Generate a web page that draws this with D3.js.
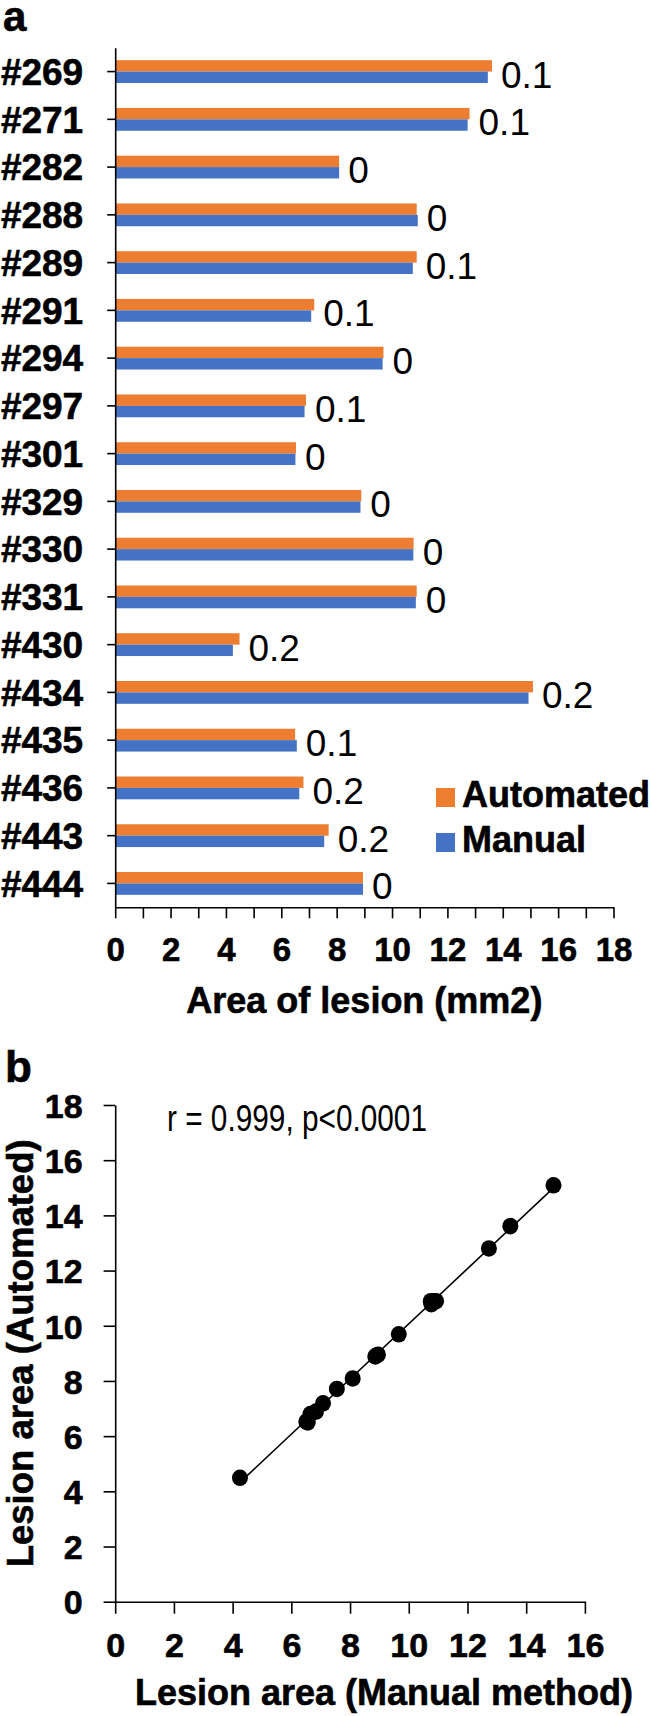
<!DOCTYPE html>
<html><head><meta charset="utf-8">
<script src="https://cdn.jsdelivr.net/npm/d3@7"></script>
<style>
body{margin:0;background:#fff;}
svg text{font-family:"Liberation Sans",Arial,sans-serif;}
.bold{font-weight:bold;stroke:#000;stroke-width:0.6px;paint-order:stroke;}
</style></head>
<body>
<svg id="chart" width="650" height="1716"></svg>
<script>
const categories = ["#269","#271","#282","#288","#289","#291","#294","#297","#301","#329","#330","#331","#430","#434","#435","#436","#443","#444"];
const automated = [13.61,12.80,8.09,10.89,10.89,7.19,9.69,6.89,6.53,8.89,10.78,10.89,4.49,15.09,6.50,6.80,7.71,8.95];
const manual    = [13.46,12.73,8.09,10.93,10.75,7.08,9.66,6.84,6.51,8.86,10.77,10.86,4.25,14.93,6.56,6.65,7.55,8.95];
const diffLabels = ["0.1","0.1","0","0","0.1","0.1","0","0.1","0","0","0","0","0.2","0.2","0.1","0.2","0.2","0"];
const series = ["Automated","Manual"];
const barTicks = d3.range(0,19);
const scatterXTicks = d3.range(0,17,2);
const scatterYTicks = d3.range(0,19,2);
const statText = "r = 0.999, p<0.0001";

const colors = {Automated:"#ED7D31", Manual:"#4472C4"};
const svg = d3.select("#chart");
const FF = '"Liberation Sans",Arial,sans-serif';

// ---------- Panel a ----------
const xA = d3.scaleLinear().domain([0,18]).range([115.2,613.5]);
const yA = d3.scaleBand().domain(categories).range([47.7,907.3]).padding(0);
const sub = d3.scaleBand().domain(series).range([-11.4,11.4]).padding(0);

const rows = categories.map((c,i)=>({cat:c, Automated:automated[i], Manual:manual[i], label:diffLabels[i]}));

const gA = svg.append("g");
const rowG = gA.selectAll("g.row").data(rows).join("g")
  .attr("transform", d=>`translate(0,${yA(d.cat)+yA.bandwidth()/2})`);
rowG.selectAll("rect").data(d=>series.map(s=>({s, v:d[s]}))).join("rect")
  .attr("x", xA(0))
  .attr("y", d=>sub(d.s))
  .attr("width", d=>xA(d.v)-xA(0))
  .attr("height", sub.bandwidth())
  .attr("fill", d=>colors[d.s]);
rowG.append("text")
  .attr("x", d=>xA(Math.max(d.Automated,d.Manual))+9)
  .attr("y", 16)
  .attr("font-size", 37)
  .attr("fill","#000")
  .text(d=>d.label);

// y axis
const yAxisA = gA.append("g").attr("transform",`translate(${xA(0)},0)`)
  .call(d3.axisLeft(yA).tickSize(8).tickSizeOuter(0).tickPadding(24));
yAxisA.selectAll("text").attr("font-size",37).attr("class","bold").attr("fill","#000").attr("dy","0.36em")
  .style("font-family",FF);
// x axis
const xAxisA = gA.append("g").attr("transform",`translate(0,${yA.range()[1]})`)
  .call(d3.axisBottom(xA).tickValues(barTicks).tickFormat(d=>d%2===0?d:"").tickSize(11).tickSizeOuter(0).tickPadding(19));
xAxisA.selectAll("text").attr("font-size",33).attr("class","bold").attr("fill","#000")
  .style("font-family",FF);
[yAxisA,xAxisA].forEach(a=>{a.selectAll("path,line").attr("stroke","#000").attr("stroke-width",1.6);});

gA.append("text").attr("x",(xA.range()[0]+xA.range()[1])/2).attr("y",1013)
  .attr("text-anchor","middle").attr("font-size",36).attr("class","bold").text("Area of lesion (mm2)");

// legend
const leg = gA.selectAll("g.leg").data(series).join("g")
  .attr("transform",(d,i)=>`translate(436,${788+i*45})`);
leg.append("rect").attr("width",19).attr("height",19).attr("fill",d=>colors[d]);
leg.append("text").attr("x",26).attr("y",19).attr("font-size",36).attr("class","bold").text(d=>d);

svg.append("text").attr("x",3).attr("y",31).attr("font-size",42).attr("class","bold").text("a");

// ---------- Panel b ----------
const xB = d3.scaleLinear().domain([0,16]).range([115.2,584.9]);
const yB = d3.scaleLinear().domain([0,18]).range([1601.7,1105]);
const gB = svg.append("g");

const pts = manual.map((m,i)=>({x:m, y:automated[i]}));
const mx = d3.mean(pts,d=>d.x), my = d3.mean(pts,d=>d.y);
const slope = d3.sum(pts,d=>(d.x-mx)*(d.y-my))/d3.sum(pts,d=>(d.x-mx)**2);
const icpt = my - slope*mx;
const [xmin,xmax] = d3.extent(pts,d=>d.x);
gB.append("line")
  .attr("x1",xB(xmin)).attr("y1",yB(icpt+slope*xmin))
  .attr("x2",xB(xmax)).attr("y2",yB(icpt+slope*xmax))
  .attr("stroke","#000").attr("stroke-width",1.6);
gB.selectAll("ellipse").data(pts).join("ellipse")
  .attr("cx",d=>xB(d.x)).attr("cy",d=>yB(d.y)).attr("rx",8).attr("ry",8.3).attr("fill","#000");

const xAxisB = gB.append("g").attr("transform",`translate(0,${yB(0)})`)
  .call(d3.axisBottom(xB).tickValues(scatterXTicks).tickSize(12).tickSizeOuter(0).tickPadding(19));
const yAxisB = gB.append("g").attr("transform",`translate(${xB(0)},0)`)
  .call(d3.axisLeft(yB).tickValues(scatterYTicks).tickSize(11.6).tickSizeOuter(0).tickPadding(21));
[xAxisB,yAxisB].forEach(a=>{
  a.selectAll("path,line").attr("stroke","#000").attr("stroke-width",1.6);
  a.selectAll("text").attr("font-size",34).attr("class","bold").attr("fill","#000")
   .style("font-family",FF);
});
yAxisB.selectAll("text").attr("dy","0.36em");

gB.append("text").attr("x",167).attr("y",1131).attr("font-size",37)
  .attr("textLength",260).attr("lengthAdjust","spacingAndGlyphs").text(statText);
gB.append("text").attr("x",384).attr("y",1705)
  .attr("text-anchor","middle").attr("font-size",36).attr("class","bold").text("Lesion area (Manual method)");
gB.append("text").attr("transform",`translate(33,${(yB.range()[0]+yB.range()[1])/2}) rotate(-90)`)
  .attr("text-anchor","middle").attr("font-size",36.5).attr("class","bold").text("Lesion area (Automated)");

svg.append("text").attr("x",5).attr("y",1082).attr("font-size",44).attr("class","bold").text("b");
</script>
</body></html>
